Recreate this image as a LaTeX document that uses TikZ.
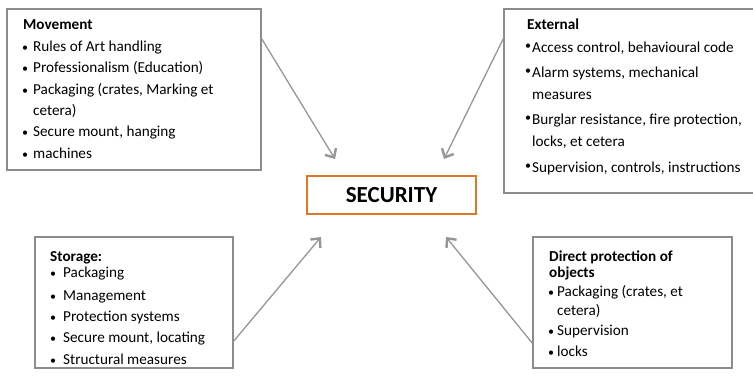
\documentclass[tikz,border=0pt]{standalone}
\usepackage{fontspec}
\setmainfont{Carlito}
\usetikzlibrary{arrows.meta}

\definecolor{framegray}{RGB}{140,140,140}
\definecolor{arrowgray}{RGB}{150,150,150}
\definecolor{secorange}{RGB}{222,120,40}

% small bullet in a box of the given width
\newcommand\bul[1]{\makebox[#1][l]{{\fontsize{12}{12}\selectfont\textbullet}}}

\begin{document}
\begin{tikzpicture}[x=1pt,y=-1pt,
  box/.style={draw=framegray,line width=1.8pt,fill=white,inner sep=0pt},
  txt/.style={anchor=base west,inner sep=0pt,font=\fontsize{15.2}{18}\selectfont},
  head/.style={txt,font=\fontsize{15.2}{18}\selectfont\bfseries},
  conn/.style={draw=arrowgray,line width=1.3pt,
    -{Straight Barb[length=7pt,width=13pt,line width=2.4pt]}}]
\useasboundingbox (0,0) rectangle (753,378);

% category boxes
\node[box,minimum width=254pt,minimum height=161pt] (mov) at (134,89.5) {};
\node[box,minimum width=252pt,minimum height=184pt] (ext) at (630,101) {};
\node[box,minimum width=198pt,minimum height=131pt] (sto) at (134,302.5) {};
\node[box,minimum width=199pt,minimum height=131pt] (dir) at (632.5,302.5) {};

% central box
\node[draw=secorange,line width=1.6pt,minimum width=169pt,minimum height=38pt,
  inner sep=0pt,font=\fontsize{23}{26}\selectfont\bfseries] (sec) at (391.5,195) {SECURITY};

% Movement
\node[head] (m0) at (23,29) {Movement};
\node[txt] (m1) at (22,51) {\bul{11pt}Rules of Art handling};
\node[txt] (m2) at (22,72) {\bul{11pt}Professionalism (Education)};
\node[txt] (m3) at (22,94) {\bul{11pt}Packaging (crates, Marking et};
\node[txt] (m4) at (33,115) {cetera)};
\node[txt] (m5) at (22,136) {\bul{11pt}Secure mount, hanging};
\node[txt] (m6) at (22,158) {\bul{11pt}machines};

% External
\node[head] (e0) at (527,29) {External};
\node[txt] (e1) at (525,52) {\raisebox{2.5pt}{\bul{7pt}}Access control, behavioural code};
\node[txt] (e2) at (525,77) {\raisebox{2.5pt}{\bul{7pt}}Alarm systems, mechanical};
\node[txt] (e3) at (532,99) {measures};
\node[txt] (e4) at (525,124) {\raisebox{2.5pt}{\bul{7pt}}Burglar resistance, fire protection,};
\node[txt] (e5) at (532,146) {locks, et cetera};
\node[txt] (e6) at (525,172) {\raisebox{2.5pt}{\bul{7pt}}Supervision, controls, instructions};

% Storage
\node[head] (s0) at (50,261) {Storage:};
\node[txt] (s1) at (50,277) {\bul{13pt}Packaging};
\node[txt] (s2) at (50,300) {\bul{13pt}Management};
\node[txt] (s3) at (50,321) {\bul{13pt}Protection systems};
\node[txt] (s4) at (50,342) {\bul{13pt}Secure mount, locating};
\node[txt] (s5) at (50,364) {\bul{13pt}Structural measures};

% Direct protection of objects
\node[head] (d0) at (549,261) {Direct protection of};
\node[head] (d1) at (549,277) {objects};
\node[txt] (d2) at (548,296) {\bul{9pt}Packaging (crates, et};
\node[txt] (d3) at (557,315) {cetera)};
\node[txt] (d4) at (548,335) {\bul{9pt}Supervision};
\node[txt] (d5) at (548,356) {\bul{9pt}locks};

% arrow heads stop short of the central box
\coordinate (tipM) at (335,159);
\coordinate (tipE) at (444,159);
\coordinate (tipS) at (321,237);
\coordinate (tipD) at (446,237);

\draw[conn] ([yshift=-31pt]mov.north east) -- (tipM);
\draw[conn] ([yshift=-31pt]ext.north west) -- (tipE);
\draw[conn] ([yshift=28pt]sto.south east) -- (tipS);
\draw[conn] ([yshift=26pt]dir.south west) -- (tipD);
\end{tikzpicture}
\end{document}
